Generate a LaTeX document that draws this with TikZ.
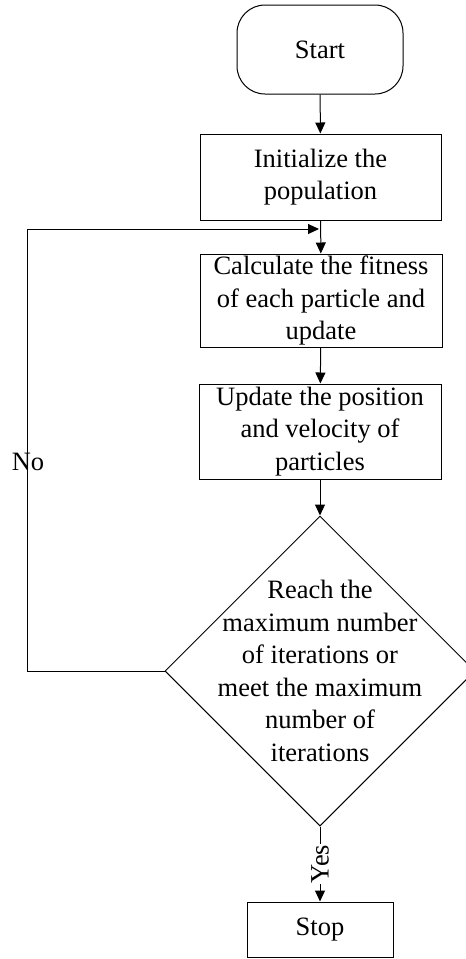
\documentclass[tikz,border=0pt]{standalone}
\usepackage{fontspec}
\setmainfont{Liberation Serif}
\usetikzlibrary{arrows.meta,shapes.geometric}
\begin{document}
\begin{tikzpicture}[x=1pt,y=-1pt,
  every node/.style={font=\fontsize{26.5}{32.5}\selectfont},
  boxnode/.style={draw,line width=1pt,rectangle,inner sep=0pt,align=center},
  arr/.style={line width=1pt,-{Triangle[length=11pt,width=10pt]}},
  ln/.style={line width=1pt}]
\useasboundingbox (0,0) rectangle (466,959);
\node[boxnode,rounded corners=28pt,minimum width=166pt,minimum height=89pt] (start) at (320,49.5) {Start};
\node[boxnode,minimum width=241pt,minimum height=86pt] (init) at (320.5,177) {Initialize the\\population};
\node[boxnode,minimum width=242pt,minimum height=93pt] (calc) at (321,300.5) {Calculate the fitness\\of each particle and\\update};
\node[boxnode,minimum width=242pt,minimum height=95pt] (upd) at (320,431.5) {Update the position\\and velocity of\\particles};
\node[draw,line width=1pt,diamond,inner sep=0pt,minimum width=310pt,minimum height=310pt] (dec) at (320,671) {};
\node[align=center,inner sep=0pt] (dectext) at (320,671) {Reach the\\maximum number\\of iterations or\\meet the maximum\\number of\\iterations};
\node[boxnode,minimum width=146pt,minimum height=55pt] (stop) at (320,929.5) {Stop};
\coordinate (loopend) at (319,229);
\coordinate (loopcorner) at (27,671);
\draw[arr] (start) -- (init);
\draw[arr] (init) -- (calc);
\draw[arr] (calc) -- (upd);
\draw[arr] (upd) -- (dec.north);
\draw[arr] (dec.west) -- (loopcorner) |- (loopend);
\node (no) at (28,462) {No};
\draw[arr] (dec.south) -- node[rotate=90,fill=white,inner sep=1pt] (yes) {Yes} (stop.north);
\end{tikzpicture}
\end{document}
